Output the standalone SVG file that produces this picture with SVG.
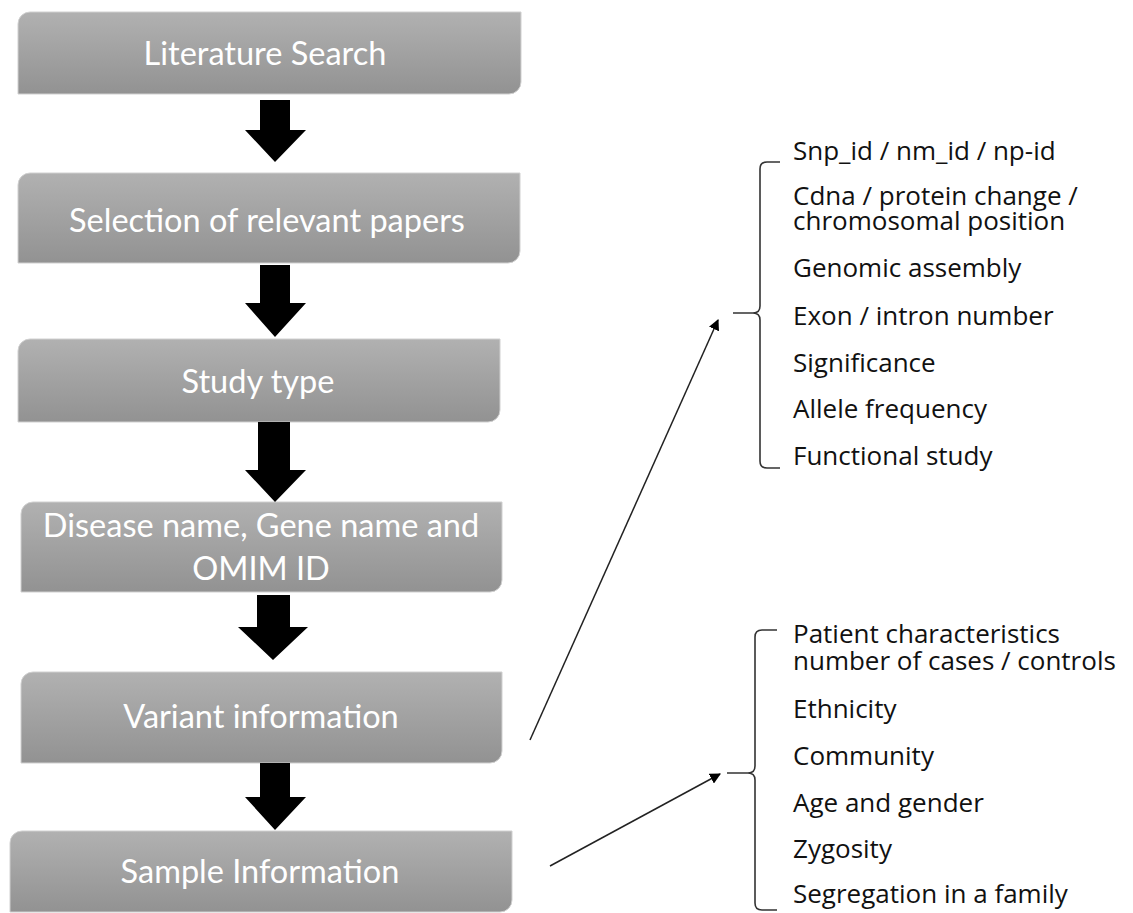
<svg xmlns="http://www.w3.org/2000/svg" width="1133" height="913" viewBox="0 0 1133 913">
<defs>
<linearGradient id="g" x1="0" y1="0" x2="0" y2="1">
<stop offset="0" stop-color="#b1b1b1"/>
<stop offset="1" stop-color="#929292"/>
</linearGradient>
<marker id="ah" viewBox="0 0 10 10" refX="9" refY="5" markerWidth="11" markerHeight="11" markerUnits="userSpaceOnUse" orient="auto">
<path d="M0,0 L10,5 L0,10 z" fill="#000"/>
</marker>
<style>
.box{fill:url(#g);stroke:#d0d0d0;stroke-width:1}
.bt{font-family:Lato,"Open Sans",sans-serif;font-size:32.5px;fill:#ffffff;text-anchor:middle}
.lt{font-family:"Open Sans",Lato,sans-serif;font-size:26px;fill:#111111}
.blk{fill:#000}
.br{fill:none;stroke:#333;stroke-width:1.6}
.ln{fill:none;stroke:#222;stroke-width:1.5}
</style>
</defs>
<rect width="1133" height="913" fill="#fff"/>
<g id="n1"><path class="box" d="M30,12 H521 V82 A12,12 0 0 1 509,94 H18 V24 A12,12 0 0 1 30,12 Z"/><text class="bt" x="265" y="65">Literature Search</text></g>
<g id="n2"><path class="box" d="M30,173 H520 V251 A12,12 0 0 1 508,263 H18 V185 A12,12 0 0 1 30,173 Z"/><text class="bt" x="267" y="232">Selection of relevant papers</text></g>
<g id="n3"><path class="box" d="M30,339 H500 V410 A12,12 0 0 1 488,422 H18 V351 A12,12 0 0 1 30,339 Z"/><text class="bt" x="258" y="393">Study type</text></g>
<g id="n4"><path class="box" d="M33,502 H502 V580 A12,12 0 0 1 490,592 H21 V514 A12,12 0 0 1 33,502 Z"/><text class="bt" x="261" y="537">Disease name, Gene name and<tspan x="261" y="580">OMIM ID</tspan></text></g>
<g id="n5"><path class="box" d="M33,672 H502 V751 A12,12 0 0 1 490,763 H21 V684 A12,12 0 0 1 33,672 Z"/><text class="bt" x="261" y="728">Variant information</text></g>
<g id="n6"><path class="box" d="M22,831 H512 V900 A12,12 0 0 1 500,912 H10 V843 A12,12 0 0 1 22,831 Z"/><text class="bt" x="260" y="883">Sample Information</text></g>
<g id="list1">
<path class="br" d="M780,162 H767 Q760,162 760,169 V306 Q760,313 753,313 H733 M753,313 Q760,313 760,320 V461 Q760,468 767,468 H780"/>
<text class="lt" x="793" y="160">Snp_id / nm_id / np-id</text>
<text class="lt" x="793" y="205">Cdna / protein change /<tspan x="793" y="230">chromosomal position</tspan></text>
<text class="lt" x="793" y="277">Genomic assembly</text>
<text class="lt" x="793" y="325">Exon / intron number</text>
<text class="lt" x="793" y="372">Significance</text>
<text class="lt" x="793" y="418">Allele frequency</text>
<text class="lt" x="793" y="465">Functional study</text>
</g>
<g id="list2">
<path class="br" d="M777,630 H762 Q755,630 755,637 V766 Q755,773 748,773 H727 M748,773 Q755,773 755,780 V903 Q755,910 762,910 H777"/>
<text class="lt" x="793" y="643">Patient characteristics<tspan x="793" y="670">number of cases / controls</tspan></text>
<text class="lt" x="793" y="718">Ethnicity</text>
<text class="lt" x="793" y="765">Community</text>
<text class="lt" x="793" y="812">Age and gender</text>
<text class="lt" x="793" y="858">Zygosity</text>
<text class="lt" x="793" y="903">Segregation in a family</text>
</g>
<g id="connectors">
<path class="blk" d="M260,100 H290 V130 H306 L275,162 L245,130 H260 Z"/>
<path class="blk" d="M260,265 H290 V303 H306 L275,337 L245,303 H260 Z"/>
<path class="blk" d="M258,422 H290 V470 H306 L275,502 L245,470 H258 Z"/>
<path class="blk" d="M257,595 H290 V627 H308 L273,660 L238,627 H257 Z"/>
<path class="blk" d="M260,763 H290 V797 H306 L275,830 L245,797 H260 Z"/>
<line class="ln" x1="530" y1="740" x2="718" y2="320" marker-end="url(#ah)"/>
<line class="ln" x1="550" y1="866" x2="720" y2="774" marker-end="url(#ah)"/>
</g>
</svg>
